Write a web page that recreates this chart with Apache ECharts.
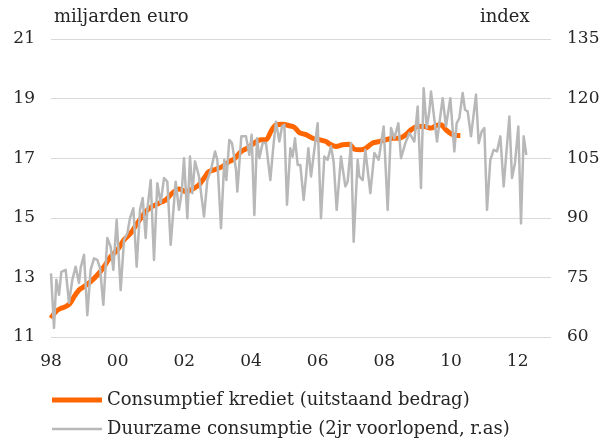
<!DOCTYPE html>
<html>
<head>
<meta charset="utf-8">
<script src="https://cdn.jsdelivr.net/npm/echarts@6/dist/echarts.min.js"></script>
<style>
  html, body { margin: 0; padding: 0; background: #ffffff; }
  #chart { width: 603px; height: 439px; }
</style>
</head>
<body>
<div id="chart"></div>
<script>
// ---- data ----
const seriesNames = ['Consumptief krediet (uitstaand bedrag)', 'Duurzame consumptie (2jr voorlopend, r.as)'];
const leftAxisName = 'miljarden euro';
const rightAxisName = 'index';
const xTickYears = [1998, 2000, 2002, 2004, 2006, 2008, 2010, 2012];

const kredietDates = [1998.00, 1998.14, 1998.29, 1998.44, 1998.57, 1998.69, 1998.84, 1998.99, 1999.19, 1999.39,
  1999.59, 1999.79, 1999.99, 2000.19, 2000.39, 2000.59, 2000.77, 2000.84, 2001.04, 2001.24,
  2001.44, 2001.64, 2001.84, 2002.05, 2002.24, 2002.44, 2002.59, 2002.74, 2002.95, 2003.14,
  2003.35, 2003.50, 2003.70, 2003.89, 2004.10, 2004.30, 2004.45, 2004.60, 2004.75, 2004.95,
  2005.15, 2005.30, 2005.45, 2005.65, 2005.85, 2006.05, 2006.25, 2006.35, 2006.55, 2006.75,
  2006.95, 2007.10, 2007.30, 2007.45, 2007.65, 2007.85, 2008.05, 2008.25, 2008.45, 2008.65,
  2008.80, 2009.00, 2009.20, 2009.40, 2009.55, 2009.70, 2009.85, 2010.00, 2010.15, 2010.28];
const kredietValues = [11.63, 11.85, 11.96, 12.02, 12.13, 12.35, 12.58, 12.69, 12.86, 13.08,
  13.36, 13.70, 13.92, 14.26, 14.48, 14.82, 15.10, 15.21, 15.38, 15.49,
  15.60, 15.83, 15.97, 15.88, 15.96, 16.11, 16.33, 16.55, 16.63, 16.72,
  16.89, 16.98, 17.22, 17.34, 17.51, 17.62, 17.62, 17.90, 18.12, 18.14,
  18.09, 18.04, 17.86, 17.79, 17.67, 17.62, 17.56, 17.48, 17.39, 17.45,
  17.47, 17.30, 17.28, 17.34, 17.51, 17.56, 17.62, 17.67, 17.67, 17.79,
  17.95, 18.06, 18.06, 18.01, 18.09, 18.12, 17.95, 17.82, 17.76, 17.76];

const duurzameDates = [1998.00, 1998.09, 1998.16, 1998.24, 1998.31, 1998.44, 1998.54, 1998.64, 1998.74, 1998.84,
  1998.89, 1998.99, 1999.09, 1999.19, 1999.29, 1999.39, 1999.47, 1999.57, 1999.69, 1999.79,
  1999.87, 1999.97, 2000.09, 2000.19, 2000.29, 2000.37, 2000.47, 2000.57, 2000.67, 2000.75,
  2000.84, 2000.89, 2000.99, 2001.09, 2001.19, 2001.29, 2001.39, 2001.49, 2001.59, 2001.74,
  2001.84, 2001.92, 2001.99, 2002.09, 2002.17, 2002.24, 2002.32, 2002.44, 2002.59, 2002.69,
  2002.80, 2002.92, 2002.99, 2003.10, 2003.20, 2003.26, 2003.35, 2003.43, 2003.55, 2003.59,
  2003.71, 2003.85, 2003.95, 2004.02, 2004.10, 2004.18, 2004.25, 2004.35, 2004.45, 2004.58,
  2004.68, 2004.75, 2004.85, 2004.93, 2005.00, 2005.08, 2005.18, 2005.25, 2005.32, 2005.40,
  2005.48, 2005.58, 2005.65, 2005.72, 2005.80, 2005.85, 2006.00, 2006.10, 2006.20, 2006.30,
  2006.40, 2006.48, 2006.57, 2006.70, 2006.83, 2006.90, 2007.00, 2007.08, 2007.20, 2007.25,
  2007.35, 2007.43, 2007.58, 2007.70, 2007.83, 2007.98, 2008.10, 2008.20, 2008.30, 2008.42,
  2008.50, 2008.63, 2008.75, 2008.90, 2009.00, 2009.10, 2009.18, 2009.27, 2009.35, 2009.40,
  2009.58, 2009.75, 2009.85, 2009.98, 2010.10, 2010.17, 2010.25, 2010.35, 2010.42, 2010.50,
  2010.60, 2010.75, 2010.83, 2010.92, 2011.00, 2011.08, 2011.18, 2011.28, 2011.38, 2011.48,
  2011.58, 2011.75, 2011.83, 2011.92, 2012.02, 2012.10, 2012.18, 2012.26];
const duurzameValues = [76.0, 62.3, 74.4, 70.6, 76.4, 76.9, 68.6, 74.4, 77.7, 73.6,
  77.4, 80.7, 65.5, 76.9, 79.8, 79.4, 77.4, 68.1, 84.9, 82.7,
  76.9, 89.5, 71.8, 84.4, 86.1, 89.9, 92.4, 77.7, 92.0, 95.0,
  84.9, 92.0, 99.5, 79.4, 98.7, 93.7, 100.0, 99.1, 83.2, 99.1,
  92.0, 96.2, 105.0, 89.9, 105.4, 96.2, 104.2, 100.4, 90.3, 99.5,
  102.1, 106.7, 104.6, 87.4, 104.6, 99.5, 109.6, 108.8, 102.1, 96.6,
  110.5, 110.5, 105.8, 110.9, 90.7, 110.0, 105.0, 108.8, 108.8, 99.5,
  108.8, 114.2, 109.2, 113.0, 113.4, 93.3, 107.5, 105.4, 110.0, 103.3,
  103.3, 94.5, 100.4, 107.5, 100.4, 100.4, 113.8, 89.9, 105.4, 104.6,
  108.0, 104.0, 92.0, 105.4, 97.9, 99.1, 108.8, 84.0, 104.6, 100.4,
  99.5, 107.1, 96.2, 106.3, 104.6, 113.0, 92.0, 112.6, 110.0, 113.8,
  105.0, 108.8, 111.3, 109.2, 118.0, 97.5, 122.6, 112.6, 116.8, 121.8,
  109.2, 120.1, 113.0, 120.1, 106.7, 113.8, 115.1, 121.4, 117.2, 116.8,
  110.5, 121.0, 108.8, 111.7, 112.6, 92.0, 104.6, 107.1, 106.7, 110.5,
  97.9, 115.5, 100.0, 103.8, 113.0, 88.6, 110.5, 105.8];

const zip = (xs, ys) => xs.map((x, i) => [x, ys[i]]);

const FONT = 'DejaVu Serif';
const TXT = '#262626';
const ORANGE = '#ff6600';
const GREY = '#b8b8b8';

const legendBase = {
  orient: 'vertical', left: 52, padding: 0, itemWidth: 50, icon: 'rect',
  selectedMode: false,
  textStyle: { fontFamily: FONT, fontSize: 18, color: TXT }
};

const chart = echarts.init(document.getElementById('chart'), null, { renderer: 'canvas' });
chart.setOption({
  animation: false,
  backgroundColor: '#ffffff',
  textStyle: { fontFamily: FONT, color: TXT },
  title: [
    { text: leftAxisName, left: 54, top: 8, padding: 0, textStyle: { fontFamily: FONT, fontSize: 18, fontWeight: 'normal', color: TXT } },
    { text: rightAxisName, left: 480, top: 8, padding: 0, textStyle: { fontFamily: FONT, fontSize: 18, fontWeight: 'normal', color: TXT } }
  ],
  grid: { left: 51, right: 52, top: 39, height: 298, containLabel: false },
  legend: [
    Object.assign({}, legendBase, { top: 391, itemHeight: 5, data: [seriesNames[0]] }),
    Object.assign({}, legendBase, { top: 420, itemHeight: 2.5, data: [seriesNames[1]] })
  ],
  xAxis: {
    type: 'value',
    min: 1998,
    max: 2013,
    interval: 2,
    axisLine: { show: false },
    axisTick: { show: false },
    splitLine: { show: false },
    axisLabel: {
      showMaxLabel: false,
      margin: 16,
      fontFamily: FONT, fontSize: 17, color: TXT,
      formatter: v => xTickYears.indexOf(v) >= 0 ? String(v).slice(2) : ''
    }
  },
  yAxis: [
    {
      type: 'value', min: 11, max: 21, interval: 2,
      axisLine: { show: false }, axisTick: { show: false },
      splitLine: { show: true, lineStyle: { color: '#d9d9d9', width: 1 } },
      axisLabel: { margin: 16, fontFamily: FONT, fontSize: 17, color: TXT }
    },
    {
      type: 'value', min: 60, max: 135, interval: 15, position: 'right',
      axisLine: { show: false }, axisTick: { show: false },
      splitLine: { show: false },
      axisLabel: { margin: 16, fontFamily: FONT, fontSize: 17, color: TXT }
    }
  ],
  series: [
    {
      name: seriesNames[0], type: 'line', yAxisIndex: 0,
      data: zip(kredietDates, kredietValues),
      symbol: 'none', smooth: 0.3,
      lineStyle: { color: ORANGE, width: 5 },
      itemStyle: { color: ORANGE }
    },
    {
      name: seriesNames[1], type: 'line', yAxisIndex: 1,
      data: zip(duurzameDates, duurzameValues),
      symbol: 'none',
      lineStyle: { color: GREY, width: 2.5, join: 'round' },
      itemStyle: { color: GREY }
    }
  ]
});
</script>
</body>
</html>
